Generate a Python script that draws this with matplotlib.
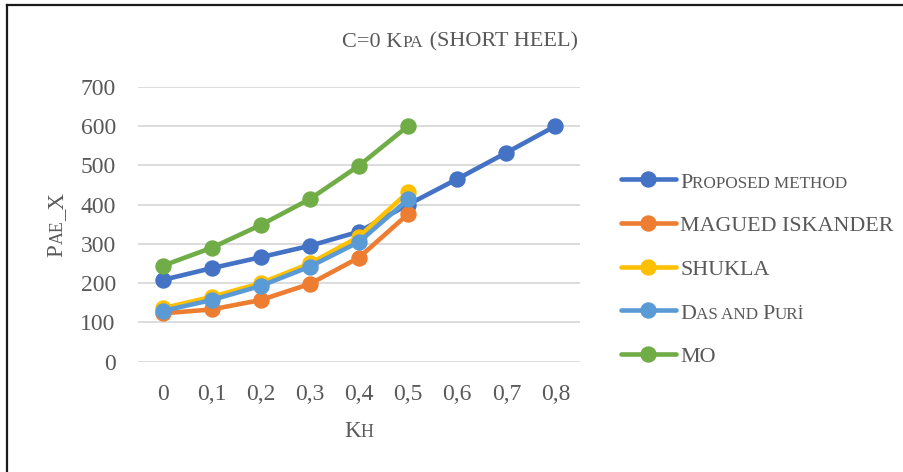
import numpy as np
import matplotlib
matplotlib.use("Agg")
import matplotlib.pyplot as plt
from matplotlib.font_manager import FontProperties
from matplotlib.lines import Line2D
from matplotlib.transforms import IdentityTransform

FONT = "Liberation Serif"
TEXT = "#595959"
SC = 0.78  # small-caps scale

kh = ["0", "0,1", "0,2", "0,3", "0,4", "0,5", "0,6", "0,7", "0,8"]
proposed = [208, 238, 266, 295, 331, 400, 465, 532, 600]
maged = [123, 133, 157, 198, 265, 376]
shukla = [136, 165, 200, 250, 318, 432]
das_puri = [129, 157, 193, 242, 305, 413]
mo = [244, 290, 348, 414, 499, 600]

colors = ["#4472C4", "#ED7D31", "#FFC000", "#5B9BD5", "#70AD47"]
series = [proposed, maged, shukla, das_puri, mo]
# legend labels as (text, is_small_cap) pieces
labels = [
    [("P", False), ("ROPOSED METHOD", True)],
    [("MAGUED ISKANDER", False)],
    [("SHUKLA", False)],
    [("D", False), ("AS AND ", True), ("P", False), ("URİ", True)],
    [("MO", False)],
]

W, H = 904, 472
fig = plt.figure(figsize=(W / 100, H / 100), dpi=100)
ax = fig.add_axes([138 / W, 1 - 361.7 / H, 442 / W, 275 / H])

x = np.arange(len(kh))
for vals, c in zip(series, colors):
    ax.plot(x[:len(vals)], vals, color=c, lw=3.3, marker="o", ms=10.8,
            solid_capstyle="round", solid_joinstyle="round")

ax.set_xlim(-0.5, len(kh) - 0.5)
ax.set_ylim(0, 700)
ax.set_yticks(range(0, 701, 100))
ax.set_xticks(x, kh)
ax.grid(axis="y", color="#D9D9D9", lw=1.3)
ax.set_axisbelow(True)
for s in ax.spines.values():
    s.set_visible(False)
ax.tick_params(length=0, pad=16, labelsize=17, labelcolor=TEXT)
for t in ax.get_xticklabels() + ax.get_yticklabels():
    t.set_family(FONT)

r = fig.canvas.get_renderer()


def measure(s, size):
    fp = FontProperties(family=FONT, size=size)
    w1 = r.get_text_width_height_descent("|" + s + "|", fp, ismath=False)[0]
    w0 = r.get_text_width_height_descent("||", fp, ismath=False)[0]
    return w1 - w0


def caps(parts, px, py, size, ha="left", rotation=0):
    sizes = [size * SC if sm else size for _, sm in parts]
    ws = [measure(t, s) for (t, _), s in zip(parts, sizes)]
    pos = -sum(ws) / 2 if ha == "center" else 0
    for (t, _), s, w in zip(parts, sizes, ws):
        if rotation:
            xy = (px, py + pos)
        else:
            xy = (px + pos, py)
        fig.text(xy[0], xy[1], t, transform=IdentityTransform(), family=FONT,
                 size=s, color=TEXT, ha="left", va="baseline",
                 rotation=rotation, rotation_mode="anchor")
        pos += w


# title and axis titles
caps([("C=0 K", False), ("PA", True), (" (SHORT HEEL)", False)],
     460, H - 46.7, 16, ha="center")
caps([("K", False), ("H", True)], 359, H - 436.7, 16.5, ha="center")
caps([("P", False), ("AE", True), ("_X", False)], 62.7, H - 225, 16.5,
     ha="center", rotation=90)

# legend
for i, (parts, c) in enumerate(zip(labels, colors)):
    yc = 179.3 + i * 43.7
    fig.add_artist(Line2D([621 / W, 648.5 / W, 676 / W], [1 - yc / H] * 3,
                          color=c, lw=3.3, marker="o", ms=10.8, markevery=[1],
                          solid_capstyle="round"))
    caps(parts, 680, H - yc - 8.3, 15.8)

# frame edges
fig.add_artist(Line2D([7 / W, 7 / W], [0, 1 - 5 / H], color="#1a1a1a", lw=1.6))
fig.add_artist(Line2D([7 / W, 1], [1 - 5 / H, 1 - 5 / H], color="#1a1a1a", lw=1.6))

fig.savefig("out.png", dpi=100)
